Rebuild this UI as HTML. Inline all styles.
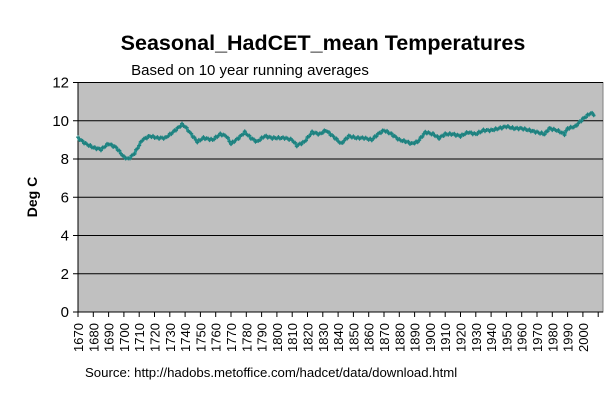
<!DOCTYPE html>
<html><head><style>
html,body{margin:0;padding:0;background:#fff;}
body{width:613px;height:402px;overflow:hidden;font-family:"Liberation Sans",Arial,sans-serif;}
</style></head><body>
<svg id="s" width="613" height="402" xmlns="http://www.w3.org/2000/svg" font-family="Liberation Sans, Arial, sans-serif">
<rect x="0" y="0" width="613" height="402" fill="#fff"/>
<text x="323" y="50" font-size="21.5" font-weight="bold" text-anchor="middle">Seasonal_HadCET_mean Temperatures</text>
<text x="250" y="75" font-size="15" text-anchor="middle">Based on 10 year running averages</text>
<rect x="78" y="82.5" width="525" height="229.5" fill="#c0c0c0" stroke="#808080" stroke-width="1"/>
<g id="grid" stroke="#000" stroke-width="1"></g>
<line x1="78" y1="82" x2="78" y2="312" stroke="#000"/>
<line x1="78" y1="312" x2="603" y2="312" stroke="#000"/>
<g id="yl" font-size="15" text-anchor="end"></g>
<g id="xl" font-size="13"></g>
<text transform="translate(37,197) rotate(-90)" font-size="14" font-weight="bold" text-anchor="middle">Deg C</text>
<polyline id="ln" fill="none" stroke="#2a9a98" stroke-width="3" stroke-linejoin="round"/>
<path id="mk" fill="none" stroke="#1f7f7d" stroke-width="1"/>
<text x="85" y="377" font-size="13.2">Source: http://hadobs.metoffice.com/hadcet/data/download.html</text>
</svg>
<script>
var ns="http://www.w3.org/2000/svg";
function Y(v){return 312-v*19.125;}
function X(y){return 78+(y-1670)*1.53;}
var g=document.getElementById('grid'),yl=document.getElementById('yl'),xl=document.getElementById('xl');
for(var v=0;v<=12;v+=2){
 var y=Y(v);
 if(v>0){var l=document.createElementNS(ns,'line');l.setAttribute('x1',78);l.setAttribute('x2',603);l.setAttribute('y1',y);l.setAttribute('y2',y);g.appendChild(l);}
 var t2=document.createElementNS(ns,'line');t2.setAttribute('x1',73);t2.setAttribute('x2',78);t2.setAttribute('y1',y);t2.setAttribute('y2',y);t2.setAttribute('stroke','#000');g.appendChild(t2);
 var t=document.createElementNS(ns,'text');t.setAttribute('x',69);t.setAttribute('y',y+5);t.textContent=v;yl.appendChild(t);
}
for(var yr=1670;yr<=2010;yr+=10){
 var x=X(yr);
 var l=document.createElementNS(ns,'line');l.setAttribute('x1',x);l.setAttribute('x2',x);l.setAttribute('y1',312);l.setAttribute('y2',317);l.setAttribute('stroke','#000');g.appendChild(l);
 if(yr<=2000){var t=document.createElementNS(ns,'text');t.setAttribute('transform','translate('+(x+5)+',352) rotate(-90)');t.textContent=yr;xl.appendChild(t);}
}
var d=[1670,9.1,1675,8.8,1680,8.6,1685,8.5,1690,8.8,1695,8.6,1700,8.1,1703,8.0,1707,8.3,1712,9.0,1717,9.2,1722,9.1,1727,9.1,1732,9.4,1738,9.8,1740,9.7,1745,9.2,1748,8.9,1752,9.1,1758,9.0,1763,9.3,1767,9.2,1770,8.8,1775,9.1,1779,9.4,1783,9.1,1787,8.9,1792,9.2,1797,9.1,1805,9.1,1810,9.0,1813,8.7,1818,8.9,1823,9.4,1828,9.3,1832,9.5,1838,9.1,1842,8.8,1847,9.2,1852,9.1,1857,9.1,1862,9.0,1866,9.3,1870,9.5,1875,9.3,1880,9.0,1885,8.9,1888,8.8,1892,8.9,1897,9.4,1902,9.3,1906,9.1,1910,9.3,1915,9.3,1920,9.2,1925,9.4,1930,9.3,1935,9.5,1940,9.5,1945,9.6,1950,9.7,1955,9.6,1960,9.6,1965,9.5,1970,9.4,1975,9.3,1978,9.6,1983,9.5,1988,9.3,1990,9.6,1995,9.7,2000,10.1,2005,10.4,2008,10.3];
var pts=[],mk="";
for(var i=0;i<d.length-2;i+=2){
 var y0=d[i],v0=d[i+1],y1=d[i+2],v1=d[i+3];
 for(var yr=y0;yr<y1;yr++){var v=v0+(v1-v0)*(yr-y0)/(y1-y0)+Math.sin(yr*2.3)*0.05;var px=X(yr),py=Y(v);pts.push(px.toFixed(1)+','+py.toFixed(1));mk+='M'+(px-2)+' '+py+'h4M'+px+' '+(py-2)+'v4';}
}
pts.push(X(2008)+','+Y(10.3));
document.getElementById('ln').setAttribute('points',pts.join(' '));
document.getElementById('mk').setAttribute('d',mk);
</script>
</body></html>
